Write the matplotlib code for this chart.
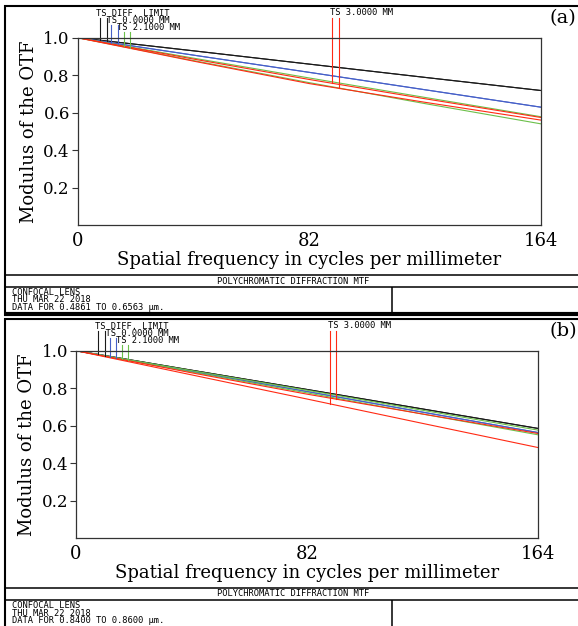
import numpy as np
import matplotlib.pyplot as plt
from matplotlib.lines import Line2D

# spatial frequency samples (cycles/mm)
freq = [0, 41, 82, 123, 164]

# (a) 0.4861 - 0.6563 um
a_diff = [1.0, 0.930, 0.859, 0.788, 0.718]
a_f00 = [1.0, 0.907, 0.815, 0.722, 0.629]
a_f21_t = [1.0, 0.891, 0.785, 0.681, 0.578]
a_f21_s = [1.0, 0.878, 0.760, 0.648, 0.540]
a_f30_t = [1.0, 0.886, 0.777, 0.674, 0.574]
a_f30_s = [1.0, 0.875, 0.755, 0.655, 0.560]

# (b) 0.8400 - 0.8600 um
b_diff = [1.0, 0.896, 0.793, 0.689, 0.585]
b_f00 = [1.0, 0.890, 0.782, 0.672, 0.563]
b_f21_t = [1.0, 0.894, 0.789, 0.682, 0.576]
b_f21_s = [1.0, 0.886, 0.775, 0.662, 0.551]
b_f30_t = [1.0, 0.882, 0.768, 0.662, 0.558]
b_f30_s = [1.0, 0.871, 0.742, 0.612, 0.483]

# where the field labels put their short vertical markers
mark_freq = [7.8, 10.3, 12.0, 14.2, 16.3, 18.4, 90.0, 92.4]
mark_top = [1.105, 1.105, 1.068, 1.068, 1.03, 1.03, 1.105, 1.105]

# the first three field labels are stacked, each one shifted 2 characters right
field_block = "TS DIFF. LIMIT\n  TS 0.0000 MM\n    TS 2.1000 MM"
field_last = "TS 3.0000 MM"

wavelengths = ["DATA FOR 0.4861 TO 0.6563 \u03bcm.", "DATA FOR 0.8400 TO 0.8600 \u03bcm."]

BLACK = "#1a1a1a"
BLUE = "#4660c8"
GREEN = "#6cc04a"
RED = "#ff2a14"

W, H = 578, 626


def fx(px):
    return px / W


def fy(py):
    return 1 - py / H


fig = plt.figure(figsize=(W / 100, H / 100), dpi=100)


def hline(y, x0, x1, lw):
    fig.add_artist(Line2D([fx(x0), fx(x1)], [fy(y), fy(y)], transform=fig.transFigure,
                          color="black", lw=lw, solid_capstyle="butt"))


def vline(x, y0, y1, lw):
    fig.add_artist(Line2D([fx(x), fx(x)], [fy(y0), fy(y1)], transform=fig.transFigure,
                          color="black", lw=lw, solid_capstyle="butt"))


panels = [
    dict(dy=0, box=(77.5, 37.7, 541, 225), tag="(a)", wl=wavelengths[0],
         curves=[(a_diff, BLACK), (a_diff, BLACK), (a_f00, BLUE), (a_f00, BLUE),
                 (a_f21_t, GREEN), (a_f21_s, GREEN), (a_f30_t, RED), (a_f30_s, RED)],
         marks=[a_diff, a_diff, a_f00, a_f00, a_f21_t, a_f21_s, a_f30_t, a_f30_s]),
    dict(dy=313, box=(76, 350.7, 538, 538), tag="(b)", wl=wavelengths[1],
         curves=[(b_diff, BLACK), (b_diff, BLACK), (b_f00, BLUE), (b_f00, BLUE),
                 (b_f21_t, GREEN), (b_f21_s, GREEN), (b_f30_t, RED), (b_f30_s, RED)],
         marks=[b_diff, b_diff, b_f00, b_f00, b_f21_t, b_f21_s, b_f30_s, b_f30_t]),
]
mark_colors = [BLACK, BLACK, BLUE, BLUE, GREEN, GREEN, RED, RED]

for p in panels:
    dy = p["dy"]
    x0, y0, x1, y1 = p["box"]
    ax = fig.add_axes([fx(x0), fy(y1), (x1 - x0) / W, (y1 - y0) / H])

    for ys, c in p["curves"]:
        ax.plot(freq, ys, color=c, lw=0.8)

    for f, top, ys, c in zip(mark_freq, mark_top, p["marks"], mark_colors):
        ax.plot([f, f], [top, np.interp(f, freq, ys)], color=c, lw=0.8, clip_on=False)

    ax.text(6.7, 1.092, field_block, family="DejaVu Sans Mono", fontsize=6.3, ha="left",
            va="center", linespacing=0.72, clip_on=False)
    ax.text(89.3, 1.132, field_last, family="DejaVu Sans Mono", fontsize=6.3, ha="left",
            va="center", clip_on=False)

    ax.set_xlim(0, 164)
    ax.set_ylim(0, 1)
    ax.set_xticks([0, 82, 164])
    ax.set_yticks([0.2, 0.4, 0.6, 0.8, 1.0])
    ax.set_yticklabels(["0.2", "0.4", "0.6", "0.8", "1.0"])
    ax.tick_params(axis="x", length=0, pad=5, labelsize=13)
    ax.tick_params(axis="y", length=4, width=0.8, direction="out", color="#333333",
                   pad=1.5, labelsize=12)
    for lab in ax.get_xticklabels() + ax.get_yticklabels():
        lab.set_family("DejaVu Serif")
    for s in ax.spines.values():
        s.set_color("#333333")
        s.set_linewidth(0.9)
    ax.set_xlabel("Spatial frequency in cycles per millimeter", family="DejaVu Serif",
                  fontsize=13, labelpad=1)
    ax.set_ylabel("Modulus of the OTF", family="DejaVu Serif", fontsize=13, labelpad=4)

    fig.text(fx(563), fy(18 + dy), p["tag"], family="DejaVu Serif", fontsize=14,
             ha="center", va="center")

    # frame and title block
    top = 6 if dy == 0 else 318.5
    hline(top, 4, 578, 1.5)
    vline(5, top - 1, 626 if dy else 316, 1.5)
    hline(275 + dy, 5, 578, 1.1)
    hline(287 + dy, 5, 578, 1.1)
    vline(392, 287 + dy, min(313 + dy, 626), 1.1)
    fig.text(fx(293), fy(281 + dy), "POLYCHROMATIC DIFFRACTION MTF",
             family="DejaVu Sans Mono", fontsize=6.3, ha="center", va="center")
    fig.text(fx(12), fy(300 + dy), "CONFOCAL LENS\nTHU MAR 22 2018\n" + p["wl"],
             family="DejaVu Sans Mono", fontsize=6.3, ha="left", va="center",
             linespacing=0.72)

hline(313.8, 4, 578, 3.0)

fig.savefig("out.png", dpi=100)
